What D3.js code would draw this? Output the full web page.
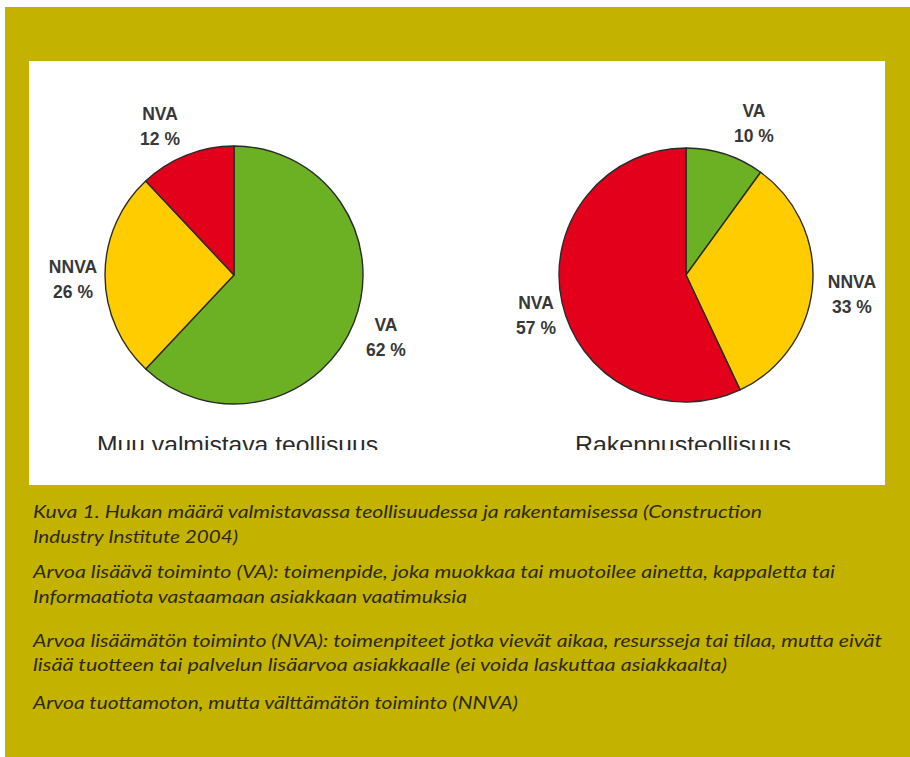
<!DOCTYPE html>
<html>
<head>
<meta charset="utf-8">
<script src="https://cdn.jsdelivr.net/npm/d3@7"></script>
<style>
  html, body { margin: 0; padding: 0; background: #ffffff; }
  svg { display: block; }
</style>
</head>
<body>
<div id="chart"></div>
<script>
// ---- data ----
const chartTitles = ["Muu valmistava teollisuus", "Rakennusteollisuus"];
const categories = ["VA", "NNVA", "NVA"];
const valuesManufacturing = [62, 26, 12];
const valuesConstruction = [10, 33, 57];
const captionLines = [
  "Kuva 1. Hukan määrä valmistavassa teollisuudessa ja rakentamisessa (Construction",
  "Industry Institute 2004)",
  "Arvoa lisäävä toiminto (VA): toimenpide, joka muokkaa tai muotoilee ainetta, kappaletta tai",
  "Informaatiota vastaamaan asiakkaan vaatimuksia",
  "Arvoa lisäämätön toiminto (NVA): toimenpiteet jotka vievät aikaa, resursseja tai tilaa, mutta eivät",
  "lisää tuotteen tai palvelun lisäarvoa asiakkaalle (ei voida laskuttaa asiakkaalta)",
  "Arvoa tuottamoton, mutta välttämätön toiminto (NNVA)"
];

// ---- layout / style ----
const W = 910, H = 757;
const colors = { VA: "#6cb024", NNVA: "#ffcc00", NVA: "#e2001a" };
const pies = [
  { values: valuesManufacturing, cx: 234, cy: 275, r: 129,
    title: { x: 237.5, w: 281 },
    labels: { VA: [152, 56], NNVA: [-161, -2], NVA: [-74, -155] } },
  { values: valuesConstruction, cx: 686, cy: 275, r: 127,
    title: { x: 683, w: 216 },
    labels: { VA: [68, -158], NNVA: [166, 13], NVA: [-150, 34] } }
];
const captionLayout = [
  { y: 518, w: 729 }, { y: 543, w: 205 },
  { y: 578, w: 802 }, { y: 603, w: 434 },
  { y: 647, w: 849 }, { y: 671, w: 694 },
  { y: 709, w: 485 }
];

const svg = d3.select("#chart").append("svg")
  .attr("width", W).attr("height", H);

// background
svg.append("rect").attr("x", 0).attr("y", 0).attr("width", W).attr("height", H).attr("fill", "#ffffff");
svg.append("rect").attr("x", 5).attr("y", 7).attr("width", W - 5).attr("height", H - 7).attr("fill", "#c4b200");
svg.append("rect").attr("x", 29).attr("y", 61).attr("width", 856).attr("height", 424).attr("fill", "#ffffff");

const pie = d3.pie().sort(null).value(d => d.value);
const arc = d3.arc().innerRadius(0);

pies.forEach((p, i) => {
  const data = categories.map((c, k) => ({ cat: c, value: p.values[k] }));
  const g = svg.append("g").attr("transform", `translate(${p.cx},${p.cy})`);
  g.selectAll("path").data(pie(data)).join("path")
    .attr("d", d => arc.outerRadius(p.r)(d))
    .attr("fill", d => colors[d.data.cat])
    .attr("stroke", "#2b2b2b")
    .attr("stroke-width", 1.4)
    .attr("stroke-linejoin", "round");

  data.forEach(d => {
    const [dx, dy] = p.labels[d.cat];
    const t = g.append("text")
      .attr("text-anchor", "middle")
      .attr("font-family", "Liberation Sans, Arial, sans-serif")
      .attr("font-weight", "bold")
      .attr("font-size", 17.5)
      .attr("fill", "#383838");
    t.append("tspan").attr("x", dx).attr("y", dy).text(d.cat);
    t.append("tspan").attr("x", dx).attr("y", dy + 25).text(d.value + " %");
  });
});

// chart titles (clipped at the bottom as in the source)
const clip = svg.append("defs").append("clipPath").attr("id", "titleClip");
clip.append("rect").attr("x", 0).attr("y", 420).attr("width", W).attr("height", 30);
chartTitles.forEach((t, i) => {
  svg.append("text")
    .attr("clip-path", "url(#titleClip)")
    .attr("x", pies[i].title.x)
    .attr("y", 453)
    .attr("text-anchor", "middle")
    .attr("font-family", "Liberation Sans, Arial, sans-serif")
    .attr("font-size", 24)
    .attr("fill", "#2a2a2a")
    .attr("textLength", pies[i].title.w)
    .attr("lengthAdjust", "spacingAndGlyphs")
    .text(t);
});

// caption
captionLines.forEach((line, i) => {
  svg.append("text")
    .attr("x", 33)
    .attr("y", captionLayout[i].y)
    .attr("font-family", "Lato, 'Open Sans', sans-serif")
    .attr("font-style", "italic")
    .attr("font-size", 17)
    .attr("fill", "#2c2a08")
    .attr("textLength", captionLayout[i].w)
    .attr("lengthAdjust", "spacingAndGlyphs")
    .text(line);
});
</script>
</body>
</html>
